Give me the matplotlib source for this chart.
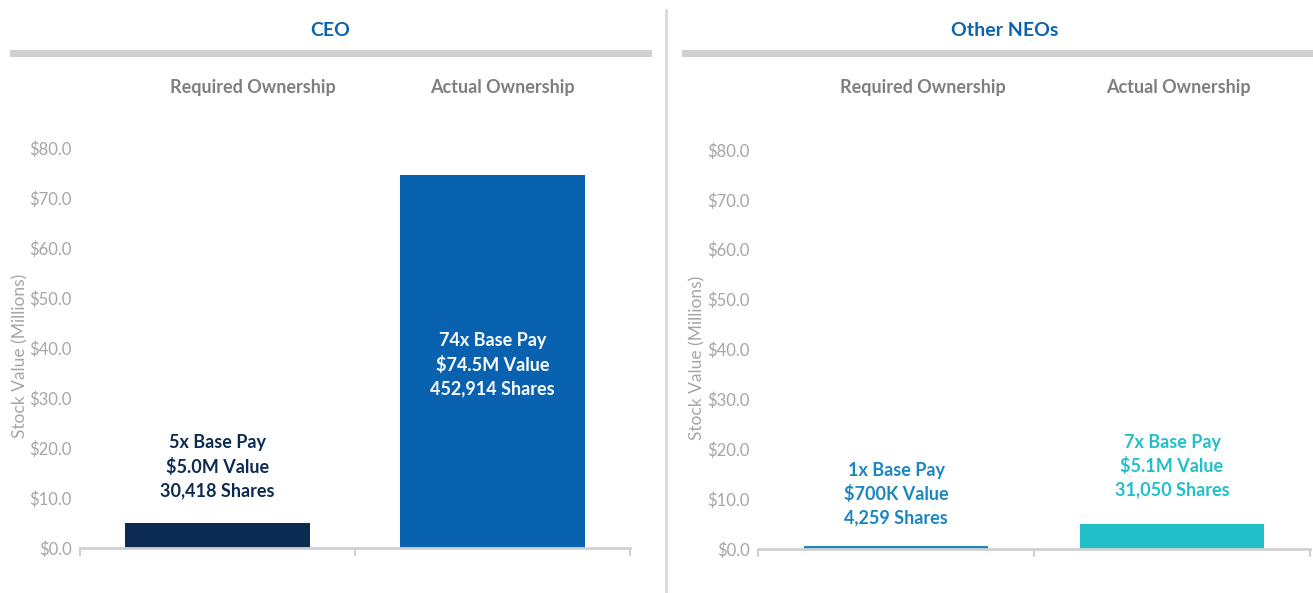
import matplotlib.pyplot as plt
from matplotlib.lines import Line2D
from matplotlib.patches import Rectangle

plt.rcParams['font.family'] = ['Lato', 'DejaVu Sans']

groups = ['CEO', 'Other NEOs']
categories = ['Required Ownership', 'Actual Ownership']
ceo_values = [5.0, 74.5]
neo_values = [0.7, 5.1]
ceo_notes = ['5x Base Pay\n$5.0M Value\n30,418 Shares',
             '74x Base Pay\n$74.5M Value\n452,914 Shares']
neo_notes = ['1x Base Pay\n$700K Value\n4,259 Shares',
             '7x Base Pay\n$5.1M Value\n31,050 Shares']
y_ticks = [0, 10, 20, 30, 40, 50, 60, 70, 80]

W, H = 1313, 593
fig = plt.figure(figsize=(W / 100, H / 100), dpi=100)

GRID = '#D0D0D0'
TICK_GREY = '#A6A6A6'
CAT_GREY = '#7F7F7F'
TITLE_BLUE = '#0A62AE'


def fx(px):
    return px / W


def fy(py):
    return 1 - py / H


panels = [
    dict(box=(80, 148, 630, 548), band=(10, 652), title_x=330, cat_x=(253, 502),
         ylabel_x=28, values=ceo_values, notes=ceo_notes,
         colors=['#0C2B52', '#0862B0'], text_colors=['#0C2B52', 'white'],
         note_y=[16.2, 36.6], title=groups[0]),
    dict(box=(758, 150, 1310, 549), band=(682, 1313), title_x=1005, cat_x=(923, 1178),
         ylabel_x=705, values=neo_values, notes=neo_notes,
         colors=['#1A86C0', '#22BECA'], text_colors=['#1A86C0', '#22BECA'],
         note_y=[11.0, 16.6], title=groups[1]),
]

for p in panels:
    x0, y0, x1, y1 = p['box']
    ax = fig.add_axes([fx(x0), fy(y1), fx(x1 - x0), (y1 - y0) / H])
    xs = range(len(categories))
    ax.bar(xs, p['values'], width=0.67, color=p['colors'], zorder=2)
    ax.set_xlim(-0.5, 1.5)
    ax.set_ylim(0, 80)
    ax.set_yticks(y_ticks)
    ax.set_yticklabels([f'${v:.1f}' for v in y_ticks])
    ax.set_xticks([-0.5, 0.5, 1.5])
    ax.set_xticklabels([])
    ax.tick_params(axis='x', length=6, width=1.5, color=GRID, direction='out')
    ax.tick_params(axis='y', length=0, labelsize=12, labelcolor=TICK_GREY, pad=6)
    for side in ('top', 'right', 'left'):
        ax.spines[side].set_visible(False)
    ax.spines['bottom'].set_color(GRID)
    ax.spines['bottom'].set_linewidth(2)
    ax.set_ylabel('Stock Value (Millions)', fontsize=12.5, color=TICK_GREY)
    ax.yaxis.set_label_coords((p['ylabel_x'] - x0) / (x1 - x0), 0.48)

    for x, note, ny, tc in zip(xs, p['notes'], p['note_y'], p['text_colors']):
        ax.text(x, ny, note, ha='center', va='center', fontsize=13,
                fontweight='bold', color=tc, linespacing=1.45, zorder=3)

    # header: title, grey band, column captions
    fig.text(fx(p['title_x']), fy(30), p['title'], ha='center', va='center',
             fontsize=14, fontweight='bold', color=TITLE_BLUE)
    b0, b1 = p['band']
    fig.patches.append(Rectangle((fx(b0), fy(57)), fx(b1 - b0), 7 / H,
                                 transform=fig.transFigure, color=GRID, lw=0))
    for cx, cat in zip(p['cat_x'], categories):
        fig.text(fx(cx), fy(87), cat, ha='center', va='center',
                 fontsize=13, fontweight='bold', color=CAT_GREY)

# divider between the two panels
fig.lines.append(Line2D([fx(666), fx(666)], [fy(10), fy(592)],
                        transform=fig.transFigure, color='#D9D9D9', lw=2))

fig.savefig('out.png', dpi=100)
